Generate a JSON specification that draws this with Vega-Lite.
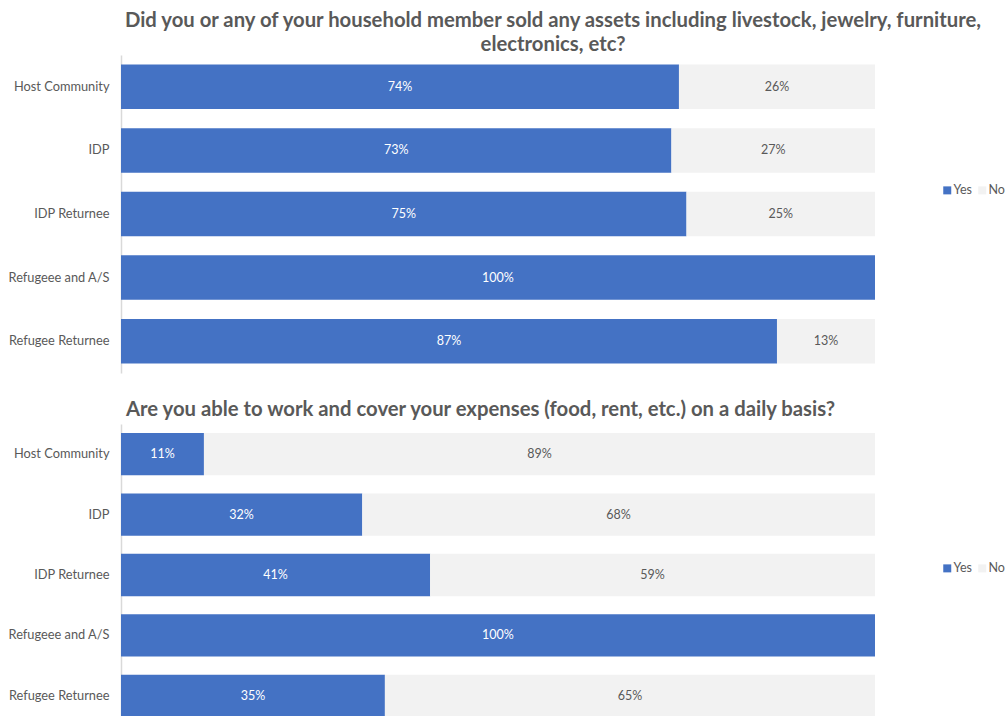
{
  "$schema": "https://vega.github.io/schema/vega-lite/v6.json",
  "padding": {"left": 7, "top": 10, "right": 0, "bottom": 0},
  "autosize": {"type": "pad"},
  "config": {
    "font": "Lato",
    "view": {"stroke": null},
    "title": {"font": "Lato", "fontWeight": "bold", "fontSize": 20.3, "color": "#595959", "lineHeight": 24}
  },
  "datasets": {
    "d": [
      {"panel": 1, "group": "Host Community", "answer": "Yes", "v0": 0, "v1": 74, "label": "74%"},
      {"panel": 1, "group": "Host Community", "answer": "No", "v0": 74, "v1": 100, "label": "26%"},
      {"panel": 1, "group": "IDP", "answer": "Yes", "v0": 0, "v1": 73, "label": "73%"},
      {"panel": 1, "group": "IDP", "answer": "No", "v0": 73, "v1": 100, "label": "27%"},
      {"panel": 1, "group": "IDP Returnee", "answer": "Yes", "v0": 0, "v1": 75, "label": "75%"},
      {"panel": 1, "group": "IDP Returnee", "answer": "No", "v0": 75, "v1": 100, "label": "25%"},
      {"panel": 1, "group": "Refugeee and A/S", "answer": "Yes", "v0": 0, "v1": 100, "label": "100%"},
      {"panel": 1, "group": "Refugee Returnee", "answer": "Yes", "v0": 0, "v1": 87, "label": "87%"},
      {"panel": 1, "group": "Refugee Returnee", "answer": "No", "v0": 87, "v1": 100, "label": "13%"},
      {"panel": 2, "group": "Host Community", "answer": "Yes", "v0": 0, "v1": 11, "label": "11%"},
      {"panel": 2, "group": "Host Community", "answer": "No", "v0": 11, "v1": 100, "label": "89%"},
      {"panel": 2, "group": "IDP", "answer": "Yes", "v0": 0, "v1": 32, "label": "32%"},
      {"panel": 2, "group": "IDP", "answer": "No", "v0": 32, "v1": 100, "label": "68%"},
      {"panel": 2, "group": "IDP Returnee", "answer": "Yes", "v0": 0, "v1": 41, "label": "41%"},
      {"panel": 2, "group": "IDP Returnee", "answer": "No", "v0": 41, "v1": 100, "label": "59%"},
      {"panel": 2, "group": "Refugeee and A/S", "answer": "Yes", "v0": 0, "v1": 100, "label": "100%"},
      {"panel": 2, "group": "Refugee Returnee", "answer": "Yes", "v0": 0, "v1": 35, "label": "35%"},
      {"panel": 2, "group": "Refugee Returnee", "answer": "No", "v0": 35, "v1": 100, "label": "65%"}
    ]
  },
  "spacing": 26,
  "resolve": {"legend": {"color": "independent"}, "scale": {"color": "independent"}},
  "vconcat": [
    {
      "title": {"text": ["Did you or any of your household member sold any assets including livestock, jewelry, furniture,", "electronics, etc?"], "anchor": "middle", "frame": "group", "dx": 55, "offset": 0},
      "width": 754,
      "height": 318,
      "data": {"name": "d"},
      "transform": [{"filter": "datum.panel == 1"}],
      "encoding": {
        "y": {"field": "group", "type": "nominal", "sort": ["Host Community", "IDP", "IDP Returnee", "Refugeee and A/S", "Refugee Returnee"],
          "scale": {"paddingInner": 0.3, "paddingOuter": 0.15},
          "axis": {"title": null, "ticks": false, "labelPadding": 12, "labelFontSize": 12.8, "labelLimit": 200, "labelColor": "#595959", "domainColor": "#D9D9D9", "domainWidth": 1.5}}
      },
      "layer": [
        {
          "mark": {"type": "bar"},
          "encoding": {
            "x": {"field": "v0", "type": "quantitative", "scale": {"domain": [0, 100], "nice": false}, "axis": null},
            "x2": {"field": "v1"},
            "color": {"field": "answer", "type": "nominal", "scale": {"domain": ["Yes", "No"], "range": ["#4472C4", "#F2F2F2"]},
              "legend": {"title": null, "orient": "none", "legendX": 820, "legendY": 129, "direction": "horizontal", "symbolType": "square", "symbolSize": 64, "symbolStrokeWidth": 0, "labelFontSize": 12.5, "labelColor": "#595959", "columnPadding": 4, "labelOffset": 0}}
          }
        },
        {
          "transform": [
            {"fold": ["v0", "v1"], "as": ["k", "pos"]},
            {"aggregate": [{"op": "mean", "field": "pos", "as": "mid"}], "groupby": ["group", "answer", "label"]}
          ],
          "mark": {"type": "text", "fontSize": 12.5},
          "encoding": {
            "x": {"field": "mid", "type": "quantitative"},
            "text": {"field": "label"},
            "color": {"condition": {"test": "datum.answer == 'Yes'", "value": "#FFFFFF"}, "value": "#595959"}
          }
        }
      ]
    },
    {
      "title": {"text": "Are you able to work and cover your expenses (food, rent, etc.) on a daily basis?", "anchor": "start", "frame": "group", "dx": 5, "offset": 4},
      "width": 754,
      "height": 302,
      "data": {"name": "d"},
      "transform": [{"filter": "datum.panel == 2"}],
      "encoding": {
        "y": {"field": "group", "type": "nominal", "sort": ["Host Community", "IDP", "IDP Returnee", "Refugeee and A/S", "Refugee Returnee"],
          "scale": {"paddingInner": 0.3, "paddingOuter": 0.15},
          "axis": {"title": null, "ticks": false, "labelPadding": 12, "labelFontSize": 12.8, "labelLimit": 200, "labelColor": "#595959", "domainColor": "#D9D9D9", "domainWidth": 1.5}}
      },
      "layer": [
        {
          "mark": {"type": "bar"},
          "encoding": {
            "x": {"field": "v0", "type": "quantitative", "scale": {"domain": [0, 100], "nice": false}, "axis": null},
            "x2": {"field": "v1"},
            "color": {"field": "answer", "type": "nominal", "scale": {"domain": ["Yes", "No"], "range": ["#4472C4", "#F2F2F2"]},
              "legend": {"title": null, "orient": "none", "legendX": 820, "legendY": 138, "direction": "horizontal", "symbolType": "square", "symbolSize": 64, "symbolStrokeWidth": 0, "labelFontSize": 12.5, "labelColor": "#595959", "columnPadding": 4, "labelOffset": 0}}
          }
        },
        {
          "transform": [
            {"fold": ["v0", "v1"], "as": ["k", "pos"]},
            {"aggregate": [{"op": "mean", "field": "pos", "as": "mid"}], "groupby": ["group", "answer", "label"]}
          ],
          "mark": {"type": "text", "fontSize": 12.5},
          "encoding": {
            "x": {"field": "mid", "type": "quantitative"},
            "text": {"field": "label"},
            "color": {"condition": {"test": "datum.answer == 'Yes'", "value": "#FFFFFF"}, "value": "#595959"}
          }
        }
      ]
    }
  ]
}
